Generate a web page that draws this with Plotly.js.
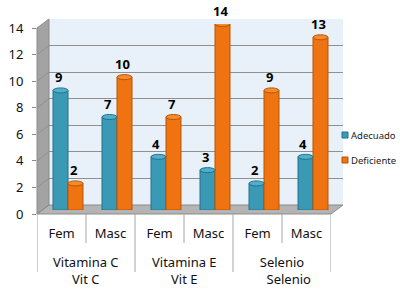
<!DOCTYPE html>
<html><head><meta charset="utf-8">
<script src="https://cdn.plot.ly/plotly-3.0.1.min.js"></script>
<style>html,body{margin:0;padding:0;background:#fff}#chart{width:400px;height:300px}</style>
</head><body><div id="chart"></div>
<script>
// ---- data ----
const sexes = ["Fem", "Masc", "Fem", "Masc", "Fem", "Masc"];
const groups = ["Vitamina C<br>Vit C", "Vitamina E<br>Vit E", "Selenio<br>\u00a0\u00a0\u00a0\u00a0Selenio"];
const seriesNames = ["Adecuado", "Deficiente"];
const adecuado = [9, 7, 4, 3, 2, 4];
const deficiente = [2, 10, 7, 14, 9, 13];
const yTicks = [0, 2, 4, 6, 8, 10, 12, 14];

// ---- styling ----
const FONT = "Noto Sans, Open Sans, sans-serif";
const fills = ["#3a9ab6", "#ef7311"];
const lines = ["#23708a", "#b95400"];
const caps = ["#4fb0cb", "#f58a2e"];
const GRID = "#8f8f8f";
const px = x => x / 400;
const py = y => 1 - y / 300;

const idx = sexes.map((_, i) => i);
const seriesVals = [adecuado, deficiente];
const half = 7.5 / 49;   // half bar width in category units

const traces = [
  {type: "scatter", x: [], y: [], xaxis: "x", yaxis: "y", showlegend: false, hoverinfo: "skip"},
  {type: "scatter", x: [], y: [], xaxis: "x2", yaxis: "y2", showlegend: false, hoverinfo: "skip"}
];
seriesVals.forEach((vals, s) => {
  traces.push({
    type: "bar", name: seriesNames[s], x: idx, y: vals,
    xaxis: "x3", yaxis: "y3", showlegend: false,
    marker: {color: fills[s], line: {color: lines[s], width: 1}}
  });
});

const shapes = [];
// back wall
shapes.push({type: "rect", xref: "paper", yref: "paper", x0: px(49), x1: px(343), y0: py(205), y1: py(19),
  fillcolor: "#e8f1f9", line: {width: 0}, layer: "below"});
// left wall
shapes.push({type: "path", xref: "paper", yref: "paper", layer: "below",
  path: `M ${px(37)} ${py(28)} L ${px(49)} ${py(19)} L ${px(49)} ${py(205)} L ${px(37)} ${py(214)} Z`,
  fillcolor: "#a3a3a3", line: {color: "#8a8a8a", width: 1}});
// floor
shapes.push({type: "path", xref: "paper", yref: "paper", layer: "below",
  path: `M ${px(37)} ${py(214)} L ${px(49)} ${py(205)} L ${px(343)} ${py(205)} L ${px(331)} ${py(214)} Z`,
  fillcolor: "#b4b4b4", line: {color: "#8a8a8a", width: 1}});
// side wall grid diagonals
yTicks.forEach(v => {
  shapes.push({type: "line", xref: "paper", yref: "y2", ysizemode: "pixel", yanchor: v,
    x0: px(37), x1: px(49), y0: 0, y1: 9, line: {color: GRID, width: 1}, layer: "below"});
});
// category separators
for (let b = -0.5; b <= sexes.length - 0.5; b += 1) {
  const isGroup = Math.round(b + 0.5) % 2 === 0;
  shapes.push({type: "line", xref: "x2", yref: "paper", x0: b, x1: b,
    y0: py(214), y1: py(isGroup ? 272 : 243), line: {color: "#a6a6a6", width: 1}});
}
// cylinder caps
seriesVals.forEach((vals, s) => {
  const off = s === 0 ? -half : half;
  vals.forEach((v, i) => {
    shapes.push({type: "circle", xref: "x3", yref: "y3",
      x0: i + off - half, x1: i + off + half, y0: v - 0.19, y1: v + 0.19,
      fillcolor: caps[s], line: {color: lines[s], width: 1}});
  });
});
// legend squares
seriesNames.forEach((n, s) => {
  const yc = 135 + s * 25;
  shapes.push({type: "rect", xref: "paper", yref: "paper",
    x0: px(342), x1: px(348), y0: py(yc + 3), y1: py(yc - 3),
    fillcolor: fills[s], line: {color: lines[s], width: 1}});
});

const annotations = [];
// value labels
seriesVals.forEach((vals, s) => {
  const off = s === 0 ? -half : half;
  vals.forEach((v, i) => {
    annotations.push({xref: "x3", yref: "y3", x: i + off, y: v, text: "<b>" + v + "</b>",
      showarrow: false, yanchor: "middle", yshift: 13, xshift: -2.5,
      font: {family: FONT, size: 13, color: "#000"}});
  });
});
// group labels
groups.forEach((g, k) => {
  annotations.push({xref: "x2", yref: "paper", x: 2 * k + 0.5, y: py(270.5), text: g,
    showarrow: false, yanchor: "middle", xanchor: "center", align: "center",
    font: {family: FONT, size: 13, color: "#111"}});
});
// legend texts
seriesNames.forEach((n, s) => {
  annotations.push({xref: "paper", yref: "paper", x: px(348.5), y: py(135 + s * 25), text: n,
    showarrow: false, xanchor: "left", yanchor: "middle",
    font: {family: FONT, size: 9.5, color: "#222"}});
});

const layout = {
  width: 400, height: 300,
  margin: {l: 0, r: 0, t: 0, b: 0},
  paper_bgcolor: "#ffffff", plot_bgcolor: "rgba(0,0,0,0)",
  showlegend: false,
  barmode: "group", bargap: 0.388, bargroupgap: 0,
  font: {family: FONT, size: 13, color: "#111"},
  // back wall grid
  xaxis: {domain: [px(49), px(343)], range: [0, 1], visible: false, anchor: "y"},
  yaxis: {domain: [py(205), py(19)], range: [0, 14], tickvals: yTicks, showgrid: true,
    gridcolor: GRID, gridwidth: 1, showticklabels: false, ticks: "", zeroline: false,
    showline: false, anchor: "x"},
  // front plane: category labels + value axis labels
  xaxis2: {domain: [px(37), px(331)], range: [-0.5, 5.5], tickvals: idx, ticktext: sexes,
    ticks: "", showgrid: false, zeroline: false, showline: false, anchor: "y2",
    ticklabelstandoff: 10, tickfont: {family: FONT, size: 13, color: "#111"}},
  yaxis2: {domain: [py(214), py(28)], range: [0, 14], tickvals: yTicks, showgrid: false,
    zeroline: false, showline: false, ticks: "outside", ticklen: 4, tickcolor: "#8a8a8a",
    ticklabelstandoff: 6, anchor: "x2", tickfont: {family: FONT, size: 13, color: "#111"}},
  // bar plane
  xaxis3: {domain: [px(43.5), px(337.5)], range: [-0.5, 5.5], visible: false, anchor: "y3"},
  yaxis3: {domain: [py(210), py(24)], range: [0, 14], visible: false, anchor: "x3"},
  shapes: shapes,
  annotations: annotations
};

Plotly.newPlot("chart", traces, layout, {staticPlot: true, displayModeBar: false});
</script>
</body></html>
